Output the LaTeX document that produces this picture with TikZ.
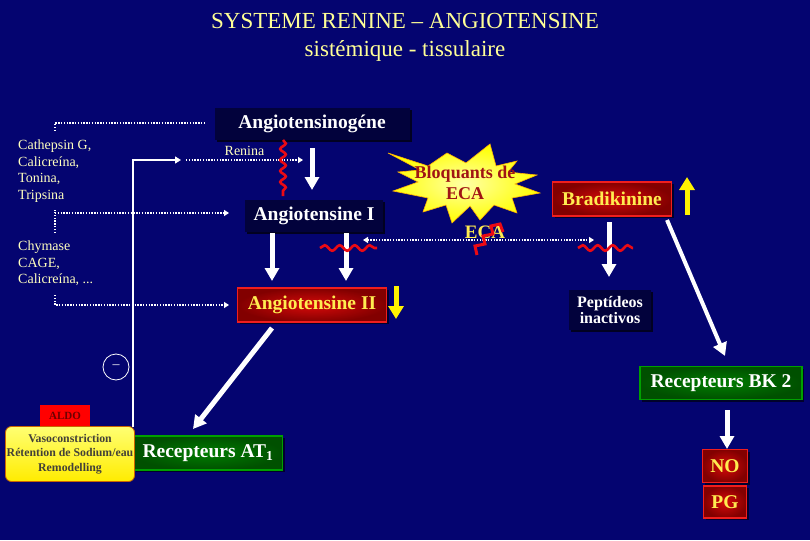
\documentclass[tikz,border=0pt]{standalone}
\usepackage{fontspec}
\setmainfont{Liberation Serif}
\usetikzlibrary{arrows.meta,decorations.pathmorphing,shadows,calc}
\definecolor{bg}{RGB}{4,4,112}
\definecolor{darkbox}{RGB}{2,2,60}
\definecolor{ttl}{RGB}{255,255,150}
\definecolor{ltxt}{RGB}{255,255,190}
\definecolor{ytxt}{RGB}{255,236,80}
\definecolor{rdark}{RGB}{130,0,0}
\definecolor{rmid}{RGB}{215,10,10}
\definecolor{rborder}{RGB}{240,30,30}
\definecolor{gdark}{RGB}{0,80,0}
\definecolor{gmid}{RGB}{0,125,0}
\definecolor{gborder}{RGB}{0,160,0}
\definecolor{wavered}{RGB}{235,10,20}
\definecolor{starred}{RGB}{160,20,20}
\definecolor{aldored}{RGB}{110,0,0}
\tikzset{
  darkn/.style={fill=darkbox, text=white, inner sep=0pt, font=\bfseries\fontsize{19.5}{22}\selectfont,
    drop shadow={shadow xshift=2pt, shadow yshift=-2pt, fill=black, opacity=0.7}},
  redn/.style={inner color=rmid, outer color=rdark, draw=rborder, line width=1.5pt, text=ytxt, inner sep=0pt,
    font=\bfseries\fontsize{19.5}{22}\selectfont,
    drop shadow={shadow xshift=2pt, shadow yshift=-2pt, fill=black, opacity=0.6}},
  greenn/.style={inner color=gmid, outer color=gdark, draw=gborder, line width=1.5pt, text=white, inner sep=0pt,
    font=\bfseries\fontsize{19.5}{22}\selectfont,
    drop shadow={shadow xshift=2pt, shadow yshift=-2pt, fill=black, opacity=0.6}},
  lefttxt/.style={text=ltxt, align=left, anchor=north west, inner sep=0pt, font=\fontsize{14}{16.5}\selectfont},
  dotline/.style={white, line width=1.3pt, dash pattern=on 1.4pt off 1.4pt},
  dotarrow/.style={dotline, -{Triangle[width=6pt,length=5pt]}},
  bigarrow/.style={white, line width=5pt, -{Triangle[width=14pt,length=13pt]}},
  yarrow/.style={yellow, line width=5pt, -{Triangle[width=15pt,length=13pt]}},
  thinarrow/.style={white, line width=1.3pt, -{Triangle[width=7pt,length=6pt]}},
  wave/.style={wavered, line width=2.6pt, decorate, decoration={snake, segment length=#1, amplitude=2.8pt}},
}
\begin{document}
\begin{tikzpicture}[x=1pt,y=-1pt]
\fill[bg] (0,0) rectangle (810,540);
\useasboundingbox (0,0) rectangle (810,540);

% title
\node[text=ttl, font=\fontsize{23}{28}\selectfont, align=center] (title) at (405,37)
  {SYSTEME RENINE -- ANGIOTENSINE\\sistémique - tissulaire};

% main boxes
\node[darkn, minimum width=195pt, minimum height=32pt] (agen) at (312,124) {Angiotensinogéne};
\node[darkn, minimum width=138pt, minimum height=32pt] (ang1) at (314,216) {Angiotensine I};
\node[redn, minimum width=149pt, minimum height=34pt] (ang2) at (312,305) {Angiotensine II};
\node[redn, minimum width=119pt, minimum height=34pt] (brad) at (612,199) {Bradikinine};
\node[darkn, minimum width=82pt, minimum height=40pt, align=center, font=\bfseries\fontsize{16}{15.5}\selectfont] (pept) at (610,310) {Peptídeos\\inactivos};
\node[greenn, minimum width=149pt, minimum height=34pt] (at1) at (208,453) {Recepteurs AT\textsubscript{1}};
\node[greenn, minimum width=162pt, minimum height=33pt] (bk2) at (721,383) {Recepteurs BK 2};
\node[redn, minimum width=45pt, minimum height=33pt] (no) at (725,466) {NO};
\node[redn, minimum width=43pt, minimum height=32pt] (pg) at (725,502) {PG};

% left texts
\node[lefttxt] (enz1) at (18,140) {Cathepsin G,\\Calicreína,\\Tonina,\\Tripsina};
\node[lefttxt] (enz2) at (18,241) {Chymase\\CAGE,\\Calicreína, ...};

% ALDO and yellow box
\node[fill=red, text=aldored, font=\bfseries\fontsize{11}{12}\selectfont, minimum width=50pt, minimum height=22pt, inner sep=0pt] (aldo) at (65,416) {ALDO};
\node[top color=yellow!55!white, bottom color=yellow!85!orange, draw=orange!80!black, line width=0.8pt, rounded corners=6pt,
  minimum width=129pt, minimum height=55pt, inner sep=0pt, align=center, text=black!85!yellow,
  font=\bfseries\fontsize{11.8}{14.5}\selectfont] (ybox) at (70,454)
  {Vasoconstriction\\Rétention de Sodium/eau\\Remodelling};

% minus circle
\node[circle, draw=white, line width=0.8pt, minimum size=26pt, inner sep=0pt, text=white, font=\fontsize{14}{15}\selectfont] (minus) at (116,367) {--};

% starburst
\shade[inner color=yellow!35!white, outer color=yellow, draw=orange!60!yellow, line width=0.6pt]
  (388,153) -- (428,166) -- (447,153) -- (466,163) -- (490,144) -- (496,166) -- (517,161) -- (508,172)
  -- (537,175) -- (515,184) -- (540,193) -- (512,198) -- (517,213) -- (494,205) -- (480,220) -- (470,206)
  -- (452,223) -- (446,205) -- (423,212) -- (428,198) -- (393,191) -- (418,182) -- (398,172) -- (420,170) -- cycle;
\node[text=starred, font=\bfseries\fontsize{18}{21}\selectfont, align=center] (bloq) at (465,183) {Bloquants de\\ECA};

% coordinates
\coordinate (c1a) at (55,131);
\coordinate (c1b) at (206,123);
\coordinate (c2a) at (55,233);
\coordinate (c2b) at (55,210);
\coordinate (c2c) at (229,213);
\coordinate (c3a) at (55,295);
\coordinate (c3b) at (229,305);
\coordinate (wl0) at (133,427);
\coordinate (wl1) at (181,160);
\coordinate (rn0) at (186,160);
\coordinate (rn1) at (303,160);
\coordinate (eca0) at (363,240);
\coordinate (eca1) at (594,240);

% dotted connectors
\draw[dotline] (c1a) |- (c1b);
\draw[dotline] (c2a) -- (c2b);
\draw[dotarrow] (55,213) -- (c2c);
\draw[dotarrow] (c3a) |- (c3b);
\draw[dotarrow] (rn0) -- node[above=0pt, text=ltxt, font=\fontsize{14}{15}\selectfont] (renina) {Renina} (rn1);
\draw[dotline, {Triangle[width=6pt,length=5pt]}-{Triangle[width=6pt,length=5pt]}] (eca0) -- (eca1);

% white thin line
\draw[thinarrow] (wl0) |- (wl1);

% ECA label
\node[text=ytxt, font=\bfseries\fontsize{19}{20}\selectfont, inner sep=0pt] (eca) at (485,232) {ECA};
\draw[wavered, line width=3pt] (477,255) -- (475,246) -- (485,244) -- (483,236) -- (493,234) -- (491,226) -- (500,224) -- (503,232);

% big arrows
\draw[bigarrow] ([yshift=-8pt]agen.south) -- (312,190);
\draw[bigarrow] (272,233) -- (272,281);
\draw[bigarrow] (346,233) -- (346,281);
\draw[bigarrow] (609,222) -- (609,277);
\draw[bigarrow] (272,328) -- (193,429);
\draw[bigarrow, line width=4pt] (667,220) -- (725,356);
\draw[bigarrow] (727,410) -- (727,449);

% yellow arrows
\draw[yarrow] (687,215) -- (687,177);
\draw[yarrow] (396,286) -- (396,319);

% red waves
\draw[wave=11pt] (283,140) -- (283,196);
\draw[wave=15pt] (320,248) -- (377,248);
\draw[wave=15pt] (578,248) -- (633,248);
\end{tikzpicture}
\end{document}
